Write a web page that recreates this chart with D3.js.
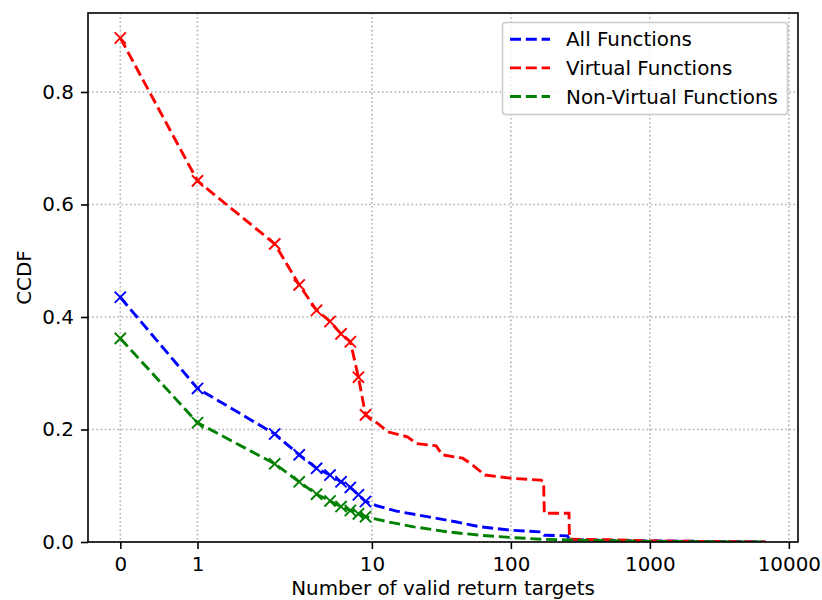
<!DOCTYPE html>
<html>
<head>
<meta charset="utf-8">
<script src="https://cdn.jsdelivr.net/npm/d3@7"></script>
<style>
  body { margin: 0; background: #fff; }
  svg text { font-family: "DejaVu Sans", sans-serif; }
</style>
</head>
<body>
<script>
// CCDF of valid return targets, symlog x axis (linthresh 2)

// marker points at x = 0..9
var headX = [0, 1, 2, 3, 4, 5, 6, 7, 8, 9];
var allHead = [0.435, 0.273, 0.192, 0.155, 0.131, 0.119, 0.107, 0.097, 0.084, 0.072];
var virtHead = [0.896, 0.642, 0.530, 0.457, 0.412, 0.392, 0.370, 0.356, 0.293, 0.226];
var nonvHead = [0.362, 0.212, 0.139, 0.107, 0.085, 0.073, 0.063, 0.056, 0.050, 0.045];

// tails without markers
var allTailX = [11, 15, 25, 40, 60, 100, 165, 174, 255, 264, 1000, 6800];
var allTailY = [0.064, 0.055, 0.045, 0.036, 0.027, 0.021, 0.018, 0.012, 0.011, 0.004, 0.002, 0.0];
var virtTailX = [11, 13, 18, 21, 29, 32, 45, 53, 65, 103, 165, 172, 174, 262, 264, 500, 1000, 6800];
var virtTailY = [0.211, 0.196, 0.187, 0.175, 0.171, 0.155, 0.149, 0.137, 0.119, 0.113, 0.110, 0.107, 0.051, 0.051, 0.005, 0.004, 0.002, 0.0];
var nonvTailX = [13, 20, 35, 60, 100, 165, 264, 1000, 6800];
var nonvTailY = [0.036, 0.027, 0.018, 0.012, 0.008, 0.005, 0.0036, 0.001, 0.0];

var seriesNames = ["All Functions", "Virtual Functions", "Non-Virtual Functions"];
var seriesColors = ["#0000ff", "#ff0000", "#008000"];

var xTicks = [0, 1, 10, 100, 1000, 10000];
var yTicks = [0.0, 0.2, 0.4, 0.6, 0.8];

var width = 822, height = 600;
var plotLeft = 88, plotRight = 798, plotTop = 13, plotBottom = 542;
var fontSize = 19.9;
var dash = "11,4.8";

// matplotlib-style symlog, linthresh 2, linscale 1
var linthresh = 2, linscaleAdj = 1 / (1 - 1 / 10);
function symlog(v){
  var a = Math.abs(v), s = v < 0 ? -1 : 1;
  if (a <= linthresh) return v * linscaleAdj / linthresh;
  return s * (linscaleAdj + Math.log10(a / linthresh));
}

var xLin = d3.scaleLinear()
    .domain([-0.2324, 4.876])
    .range([plotLeft, plotRight]);
var x = function(v){ return xLin(symlog(v)); };

var y = d3.scaleLinear()
    .domain([0, 0.9404])
    .range([plotBottom, plotTop]);

var svg = d3.select("body").append("svg")
    .attr("width", width)
    .attr("height", height);

// grid
var grid = svg.append("g");
xTicks.forEach(function(t){
  grid.append("line")
    .attr("x1", x(t)).attr("x2", x(t))
    .attr("y1", plotTop).attr("y2", plotBottom)
    .attr("stroke", "#b0b0b0").attr("stroke-width", 1.6)
    .attr("stroke-dasharray", "1.6,2.6");
});
yTicks.forEach(function(t){
  grid.append("line")
    .attr("x1", plotLeft).attr("x2", plotRight)
    .attr("y1", y(t)).attr("y2", y(t))
    .attr("stroke", "#b0b0b0").attr("stroke-width", 1.6)
    .attr("stroke-dasharray", "1.6,2.6");
});

// series
var series = [
  {head: allHead, tx: allTailX, ty: allTailY},
  {head: virtHead, tx: virtTailX, ty: virtTailY},
  {head: nonvHead, tx: nonvTailX, ty: nonvTailY}
];

var line = d3.line()
    .x(function(d){ return x(d[0]); })
    .y(function(d){ return y(d[1]); });

svg.append("clipPath").attr("id", "clip")
  .append("rect")
  .attr("x", plotLeft).attr("y", plotTop)
  .attr("width", plotRight - plotLeft).attr("height", plotBottom - plotTop);

var plot = svg.append("g").attr("clip-path", "url(#clip)");

series.forEach(function(s, i){
  var pts = headX.map(function(v, j){ return [v, s.head[j]]; });
  s.tx.forEach(function(v, j){ pts.push([v, s.ty[j]]); });

  plot.append("path")
    .datum(pts)
    .attr("d", line)
    .attr("fill", "none")
    .attr("stroke", seriesColors[i])
    .attr("stroke-width", 2.9)
    .attr("stroke-dasharray", dash);

  var r = 5.6;
  headX.forEach(function(v, j){
    var cx = x(v), cy = y(s.head[j]);
    plot.append("path")
      .attr("d", "M" + (cx - r) + "," + (cy - r) + "L" + (cx + r) + "," + (cy + r) +
                 "M" + (cx - r) + "," + (cy + r) + "L" + (cx + r) + "," + (cy - r))
      .attr("stroke", seriesColors[i])
      .attr("stroke-width", 1.9)
      .attr("fill", "none");
  });
});

// axes
var xAxis = d3.axisBottom(xLin)
    .tickValues(xTicks.map(symlog))
    .tickFormat(function(d, i){ return xTicks[i]; })
    .tickSize(7).tickPadding(8);
var yAxis = d3.axisLeft(y)
    .tickValues(yTicks)
    .tickFormat(d3.format(".1f"))
    .tickSize(7).tickPadding(7);

var gx = svg.append("g")
    .attr("transform", "translate(0," + plotBottom + ")")
    .call(xAxis);
var gy = svg.append("g")
    .attr("transform", "translate(" + plotLeft + ",0)")
    .call(yAxis);
[gx, gy].forEach(function(g){
  g.select(".domain").remove();
  g.selectAll("text").attr("font-size", fontSize).attr("fill", "#000")
    .style("font-family", "DejaVu Sans, sans-serif");
  g.selectAll("line").attr("stroke", "#000").attr("stroke-width", 1.6);
});

// frame
svg.append("rect")
  .attr("x", plotLeft).attr("y", plotTop)
  .attr("width", plotRight - plotLeft).attr("height", plotBottom - plotTop)
  .attr("fill", "none").attr("stroke", "#000").attr("stroke-width", 1.6);

// axis labels
svg.append("text")
  .attr("x", (plotLeft + plotRight) / 2).attr("y", 595)
  .attr("text-anchor", "middle").attr("font-size", fontSize)
  .text("Number of valid return targets");
svg.append("text")
  .attr("transform", "translate(31," + ((plotTop + plotBottom) / 2) + ") rotate(-90)")
  .attr("text-anchor", "middle").attr("font-size", fontSize)
  .text("CCDF");

// legend
var legend = svg.append("g");
legend.append("rect")
  .attr("x", 502.5).attr("y", 22.5)
  .attr("width", 285).attr("height", 92)
  .attr("rx", 3)
  .attr("fill", "#fff").attr("fill-opacity", 0.8)
  .attr("stroke", "#cccccc").attr("stroke-width", 1.6);
seriesNames.forEach(function(name, i){
  var ly = 39.3 + i * 28.6;
  legend.append("line")
    .attr("x1", 510).attr("x2", 550)
    .attr("y1", ly).attr("y2", ly)
    .attr("stroke", seriesColors[i]).attr("stroke-width", 2.9)
    .attr("stroke-dasharray", dash);
  legend.append("text")
    .attr("x", 566).attr("y", ly + 7)
    .attr("font-size", fontSize)
    .text(name);
});
</script>
</body>
</html>
